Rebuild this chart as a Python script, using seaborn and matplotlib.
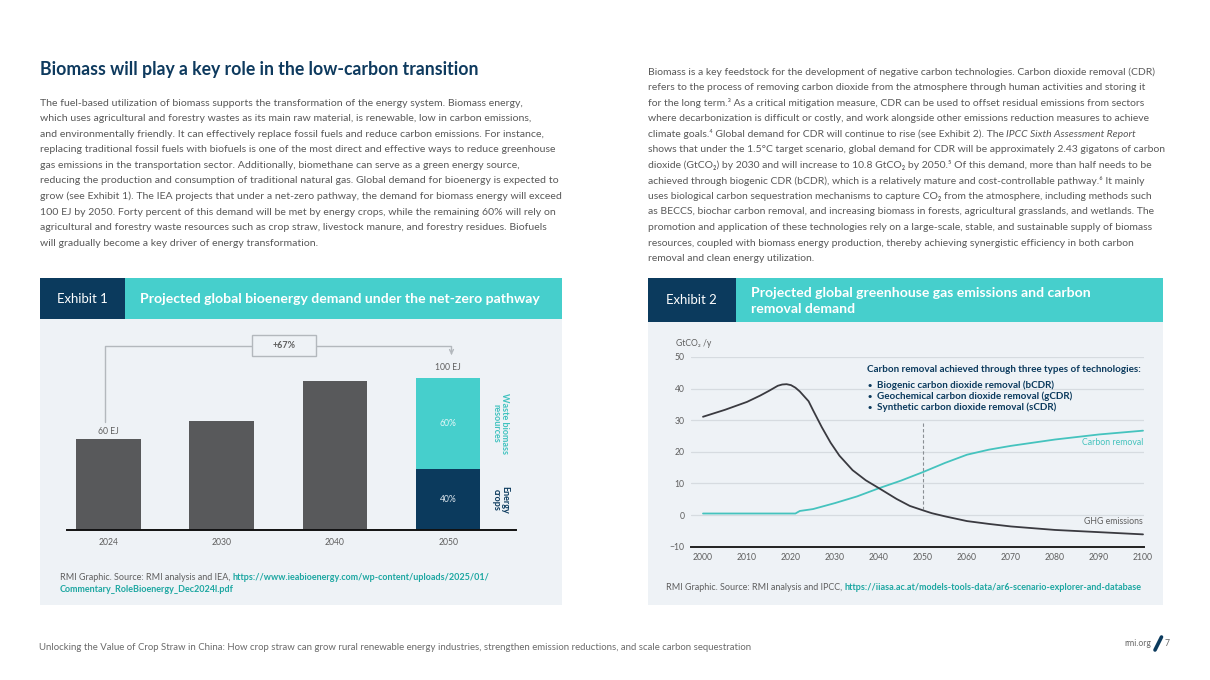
import matplotlib
matplotlib.use('Agg')
import matplotlib.pyplot as plt
import seaborn as sns
import pandas as pd
from matplotlib.patches import Rectangle
from matplotlib.lines import Line2D

# ---------------- data ----------------
bar_years = ['2024', '2030', '2040', '2050']
bar_totals = [60, 72, 98, 100]          # EJ
crops_year = '2050'
crops_value = 40                        # EJ (40% of 100 EJ)
bar_labels = {'2024': '60 EJ', '2050': '100 EJ'}
growth_label = '+67%'

ghg_years = [2000, 2005, 2010, 2013, 2015, 2017, 2018, 2019, 2020, 2021, 2022, 2024,
             2025, 2027, 2029, 2031, 2034, 2037, 2040, 2044, 2047, 2050, 2052, 2055,
             2060, 2065, 2070, 2080, 2090, 2100]
ghg_values = [31.1, 33.3, 35.8, 37.8, 39.3, 40.9, 41.3, 41.4, 41.1, 40.3, 39.1, 36.0,
              33.2, 27.8, 22.9, 18.8, 14.2, 11.0, 8.5, 5.1, 2.9, 1.5, 0.6, -0.4,
              -1.9, -2.8, -3.6, -4.7, -5.4, -6.1]
cdr_years = [2000, 2021, 2022, 2025, 2030, 2035, 2040, 2045, 2050, 2055, 2060, 2065,
             2070, 2080, 2090, 2100]
cdr_values = [0.5, 0.5, 1.3, 1.9, 3.8, 5.9, 8.5, 10.9, 13.6, 16.5, 19.1, 20.7,
              21.9, 23.9, 25.5, 26.7]
x_ticks2 = list(range(2000, 2101, 10))
y_ticks2 = [-10, 0, 10, 20, 30, 40, 50]
marker_year = 2050

# ---------------- style ----------------
W, H = 1210, 680
NAVY = '#0b3a5d'
TEAL = '#46cfcc'
TEAL_LINE = '#45c3be'
TEAL_DARK = '#1ea7a2'
PANEL = '#eef2f6'
BODY = '#595959'
GRAYTXT = '#5f5f5f'
BARGRAY = '#58595b'

sns.set_theme(style='white')
FAM = ['Lato', 'DejaVu Sans']
plt.rcParams['font.family'] = FAM

fig = plt.figure(figsize=(W / 100, H / 100), dpi=100)
fig.patch.set_facecolor('white')
renderer = fig.canvas.get_renderer()


def tw(s, size=10, **kw):
    t = fig.text(0, 0, s, fontsize=size, **kw)
    w = t.get_window_extent(renderer).width
    t.remove()
    return w


def fit(s, target, **kw):
    return 10 * target / tw(s, 10, **kw)


def ftext(x, y, s, size, **kw):
    kw.setdefault('va', 'center')
    kw.setdefault('ha', 'left')
    return fig.text(x / W, 1 - y / H, s, fontsize=size, **kw)


def runs(x, y, parts, size, **common):
    cx = x
    for s, style in parts:
        k = dict(common)
        k.update(style)
        lead = len(s) - len(s.lstrip(' '))
        trail = len(s) - len(s.rstrip(' '))
        core = s.strip(' ')
        spw = tw('n n', size, **k) - tw('nn', size, **k)
        cx += lead * spw
        t = ftext(cx, y, core, size, **k)
        cx += t.get_window_extent(renderer).width + trail * spw


def rect(x0, y0, x1, y1, color):
    fig.add_artist(Rectangle((x0 / W, 1 - y1 / H), (x1 - x0) / W, (y1 - y0) / H,
                             transform=fig.transFigure, facecolor=color,
                             edgecolor='none', zorder=-2))


# ---------------- left column text ----------------
title = 'Biomass will play a key role in the low-carbon transition'
ts = fit(title, 438, weight='bold')
ftext(40, 70, title, ts, weight='bold', color='#0e3a5e')

left_lines = [
    'The fuel-based utilization of biomass supports the transformation of the energy system. Biomass energy,',
    'which uses agricultural and forestry wastes as its main raw material, is renewable, low in carbon emissions,',
    'and environmentally friendly. It can effectively replace fossil fuels and reduce carbon emissions. For instance,',
    'replacing traditional fossil fuels with biofuels is one of the most direct and effective ways to reduce greenhouse',
    'gas emissions in the transportation sector. Additionally, biomethane can serve as a green energy source,',
    'reducing the production and consumption of traditional natural gas. Global demand for bioenergy is expected to',
    'grow (see Exhibit 1). The IEA projects that under a net-zero pathway, the demand for biomass energy will exceed',
    '100 EJ by 2050. Forty percent of this demand will be met by energy crops, while the remaining 60% will rely on',
    'agricultural and forestry waste resources such as crop straw, livestock manure, and forestry residues. Biofuels',
    'will gradually become a key driver of energy transformation.',
]
bs = fit(left_lines[6], 518)
for i, ln in enumerate(left_lines):
    ftext(40, 103 + i * 15.58, ln, bs, color=BODY)

# ---------------- right column text ----------------
right_lines = [
    'Biomass is a key feedstock for the development of negative carbon technologies. Carbon dioxide removal (CDR)',
    'refers to the process of removing carbon dioxide from the atmosphere through human activities and storing it',
    'for the long term.\u00b3 As a critical mitigation measure, CDR can be used to offset residual emissions from sectors',
    'where decarbonization is difficult or costly, and work alongside other emissions reduction measures to achieve',
    None,
    'shows that under the 1.5\u00b0C target scenario, global demand for CDR will be approximately 2.43 gigatons of carbon',
    'dioxide (GtCO\u2082) by 2030 and will increase to 10.8 GtCO\u2082 by 2050.\u2075 Of this demand, more than half needs to be',
    'achieved through biogenic CDR (bCDR), which is a relatively mature and cost-controllable pathway.\u2076 It mainly',
    'uses biological carbon sequestration mechanisms to capture CO\u2082 from the atmosphere, including methods such',
    'as BECCS, biochar carbon removal, and increasing biomass in forests, agricultural grasslands, and wetlands. The',
    'promotion and application of these technologies rely on a large-scale, stable, and sustainable supply of biomass',
    'resources, coupled with biomass energy production, thereby achieving synergistic efficiency in both carbon',
    'removal and clean energy utilization.',
]
rs = fit(right_lines[0], 511)
for i, ln in enumerate(right_lines):
    y = 72 + i * 15.55
    if ln is None:
        runs(648, y, [('climate goals.\u2074 Global demand for CDR will continue to rise (see Exhibit 2). The ', {}),
                      ('IPCC Sixth Assessment Report', {'style': 'italic'})], rs, color=BODY)
    else:
        ftext(648, y, ln, rs, color=BODY)

# ---------------- panels ----------------
rect(40, 278, 562, 605, PANEL)
rect(40, 278, 125, 319, NAVY)
rect(125, 278, 562, 319, TEAL)
rect(648, 278, 1163, 605, PANEL)
rect(648, 278, 736, 322, NAVY)
rect(736, 278, 1163, 322, TEAL)

ex_s = fit('Exhibit 1', 51)
ftext(57, 299, 'Exhibit 1', ex_s, color='white')
ftext(666, 300, 'Exhibit 2', ex_s, color='white')
h1 = 'Projected global bioenergy demand under the net-zero pathway'
hs = fit(h1, 399, weight='bold')
ftext(140, 299, h1, hs, color='white', weight='bold')
ftext(751, 293, 'Projected global greenhouse gas emissions and carbon', hs, color='white', weight='bold')
ftext(751, 309, 'removal demand', hs, color='white', weight='bold')

# ---------------- Exhibit 1 chart ----------------
c0, sp = 108.5, 113.2       # bar centre px, spacing px
ppe = (530 - 439) / 60.0    # px per EJ
ymax1 = 130
ax1 = fig.add_axes([67 / W, (H - 530) / H, (516 - 67) / W, ymax1 * ppe / H])
ax1.set_facecolor('none')
df_tot = pd.DataFrame({'year': bar_years, 'value': bar_totals})
pal = {y: (TEAL if y == crops_year else BARGRAY) for y in bar_years}
sns.barplot(data=df_tot, x='year', y='value', hue='year', palette=pal, order=bar_years,
            hue_order=bar_years, width=0.57, saturation=1, legend=False, ax=ax1, zorder=2,
            edgecolor='none', linewidth=0)
df_crop = pd.DataFrame({'year': [crops_year], 'value': [crops_value]})
sns.barplot(data=df_crop, x='year', y='value', order=bar_years, color=NAVY, width=0.57,
            saturation=1, ax=ax1, zorder=3, edgecolor='none', linewidth=0)
ax1.set_xlim((67 - c0) / sp, (516 - c0) / sp)
ax1.set_ylim(0, ymax1)
ax1.set_xlabel('')
ax1.set_ylabel('')
ax1.set_yticks([])
for s in ['top', 'left', 'right']:
    ax1.spines[s].set_visible(False)
ax1.spines['bottom'].set_color('#111111')
ax1.spines['bottom'].set_linewidth(1.4)
ax1.spines['bottom'].set_zorder(6)
small = fit('2024', 20)
ax1.tick_params(axis='x', length=0, pad=6, labelsize=small, labelcolor=GRAYTXT)

i24 = bar_years.index('2024')
i50 = bar_years.index('2050')
v24 = bar_totals[i24]
v50 = bar_totals[i50]
ax1.text(i24, v24 + 4.8, bar_labels['2024'], ha='center', va='center', fontsize=small, color=GRAYTXT)
ax1.text(i50, v50 + 7, bar_labels['2050'], ha='center', va='center', fontsize=small, color=GRAYTXT)
ax1.text(i50, crops_value + (v50 - crops_value) / 2, '60%', ha='center', va='center',
         fontsize=small, color='#e6f7f7', zorder=5)
ax1.text(i50, crops_value / 2, '40%', ha='center', va='center', fontsize=small,
         color='#dfe7ee', zorder=5)
side_s = small * 1.05
ax1.text(3.46, 70, 'Waste biomass\nresources', rotation=270, ha='center', va='center',
         fontsize=side_s, color='#3fc2bf', weight='bold', linespacing=0.95)
ax1.text(3.46, 20, 'Energy\ncrops', rotation=270, ha='center', va='center',
         fontsize=side_s, color=NAVY, weight='bold', linespacing=0.95)

# bracket
bx0 = -0.027
bx1 = i50 + 0.03
by = v24 + 61.3
gcol = '#b3b8bd'
ax1.plot([bx0, bx0, bx1, bx1], [v24 + 11.2, by, by, by - 3.5], color=gcol, lw=1.0,
         clip_on=False, zorder=1)
ax1.annotate('', xy=(bx1, by - 5.9), xytext=(bx1, by - 3.0),
             arrowprops=dict(arrowstyle='->', color=gcol, lw=1.0, mutation_scale=7),
             annotation_clip=False)
ax1.add_patch(Rectangle((1.268, by - 6.6), 0.562, 13.8, facecolor=PANEL, edgecolor=gcol,
                        lw=1.0, zorder=4, clip_on=False))
ax1.text(1.55, by + 0.3, growth_label, ha='center', va='center', fontsize=small * 1.05,
         weight='bold', color=GRAYTXT, zorder=5)

src_s = fit('RMI Graphic. Source: RMI analysis and IPCC, https://iiasa.ac.at/models-tools-data/ar6-scenario-explorer-and-database', 467)
runs(60, 577, [('RMI Graphic. Source: RMI analysis and IEA, ', {'color': GRAYTXT}),
               ('https://www.ieabioenergy.com/wp-content/uploads/2025/01/', {'color': TEAL_DARK, 'weight': 'bold'})],
     src_s)
ftext(60, 589.5, 'Commentary_RoleBioenergy_Dec2024l.pdf', src_s, color=TEAL_DARK, weight='bold')

# ---------------- Exhibit 2 chart ----------------
ppy = (1143 - 703) / 100.0
ax2 = fig.add_axes([691 / W, (H - 546.7) / H, (1144 - 691) / W, (546.7 - 357) / H])
ax2.set_facecolor('none')
sns.lineplot(x=cdr_years, y=cdr_values, color=TEAL_LINE, lw=1.3, ax=ax2, zorder=3)
sns.lineplot(x=ghg_years, y=ghg_values, color='#3a3a40', lw=1.3, ax=ax2, zorder=3)
ax2.set_xlim(2000 - (703 - 691) / ppy, 2100 + (1144 - 1143) / ppy)
ax2.set_ylim(-10, 50)
ax2.set_xticks(x_ticks2)
ax2.set_yticks(y_ticks2)
ax2.yaxis.grid(True, color='#d6dbe0', lw=0.9)
ax2.xaxis.grid(False)
ax2.set_axisbelow(True)
for s in ['top', 'left', 'right']:
    ax2.spines[s].set_visible(False)
ax2.spines['bottom'].set_color('#222222')
ax2.spines['bottom'].set_linewidth(1.4)
ax2.tick_params(axis='x', length=0, pad=4.5, labelsize=small, labelcolor=GRAYTXT)
ax2.tick_params(axis='y', length=0, pad=4.5, labelsize=small, labelcolor=GRAYTXT)
ax2.plot([marker_year, marker_year], [29.2, 2.0], color='#8a8f94', lw=0.8,
         ls=(0, (3, 2)), zorder=2)
ax2.text(2100, 22.8, 'Carbon removal', ha='right', va='center', fontsize=small * 1.02,
         color=TEAL_LINE)
ax2.text(2100, -1.9, 'GHG emissions', ha='right', va='center', fontsize=small * 1.02,
         color=GRAYTXT)
ftext(676, 343, 'GtCO\u2082 /y', small, color=GRAYTXT)

ann = 'Carbon removal achieved through three types of technologies:'
an_s = fit(ann, 274.5, weight='bold')
ftext(867, 370, ann, an_s, color=NAVY, weight='bold')
bullets = ['Biogenic carbon dioxide removal (bCDR)',
           'Geochemical carbon dioxide removal (gCDR)',
           'Synthetic carbon dioxide removal (sCDR)']
for i, b in enumerate(bullets):
    yy = 385.5 + i * 11
    ftext(867.5, yy, '\u2022', an_s * 0.75, color=NAVY, weight='bold')
    ftext(877, yy, b, an_s, color=NAVY, weight='bold')

runs(666, 588, [('RMI Graphic. Source: RMI analysis and IPCC, ', {'color': GRAYTXT}),
                ('https://iiasa.ac.at/models-tools-data/ar6-scenario-explorer-and-database',
                 {'color': TEAL_DARK, 'weight': 'bold'})], src_s)

# ---------------- footer ----------------
foot = ('Unlocking the Value of Crop Straw in China: How crop straw can grow rural renewable energy '
        'industries, strengthen emission reductions, and scale carbon sequestration')
fs = fit(foot, 713)
ftext(39, 647, foot, fs, color='#6a6a6a')
rmi_s = fit('rmi.org', 27)
ftext(1124, 643.5, 'rmi.org', rmi_s, color='#6a6a6a')
fig.add_artist(Line2D([1155 / W, 1161.5 / W], [1 - 650 / H, 1 - 637 / H],
                      transform=fig.transFigure, color=NAVY, lw=2.6))
ftext(1165, 643.5, '7', rmi_s, color='#6a6a6a')

fig.savefig('out.png', dpi=100, facecolor='white')
